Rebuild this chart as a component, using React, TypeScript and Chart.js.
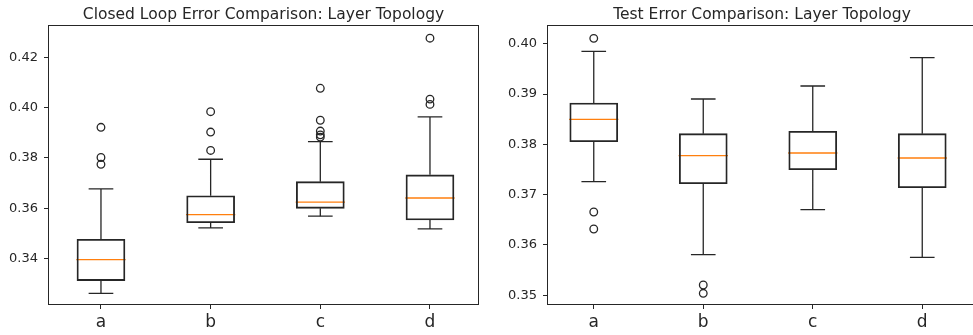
import React, { useEffect, useRef } from "react";
import { Chart, registerables } from "chart.js";

Chart.register(...registerables);

const categories = ["a", "b", "c", "d"];

// Left chart: Closed Loop Error
const clTitle = "Closed Loop Error Comparison: Layer Topology";
const clQ1 = [0.3313, 0.3543, 0.36, 0.3554];
const clMedian = [0.3396, 0.3575, 0.3625, 0.3641];
const clQ3 = [0.3477, 0.365, 0.3706, 0.3733];
const clWhiskerLow = [0.3262, 0.3522, 0.3569, 0.3518];
const clWhiskerHigh = [0.3677, 0.3795, 0.3865, 0.3963];
const clOutliers = [
  [0.3922, 0.3802, 0.3775],
  [0.3984, 0.3903, 0.383],
  [0.4077, 0.395, 0.3907, 0.3892, 0.3883],
  [0.4276, 0.4034, 0.4013],
];
const clYTicks = [0.34, 0.36, 0.38, 0.4, 0.42];

// Right chart: Test Error
const teTitle = "Test Error Comparison: Layer Topology";
const teQ1 = [0.38052, 0.37217, 0.37495, 0.37137];
const teMedian = [0.38497, 0.37773, 0.37827, 0.37728];
const teQ3 = [0.38821, 0.38211, 0.38258, 0.38211];
const teWhiskerLow = [0.37257, 0.35805, 0.367, 0.35753];
const teWhiskerHigh = [0.39849, 0.38901, 0.39159, 0.39722];
const teOutliers = [[0.40107, 0.36654, 0.36316], [0.35203, 0.35038], [], []];
const teYTicks = [0.35, 0.36, 0.37, 0.38, 0.39, 0.4];

const FONT = '"DejaVu Sans", sans-serif';
const INK = "#262626";
const BOX_HALF = 0.225;
const CAP_HALF = 0.1125;
const LW = 1.3;

type Spec = {
  title: string;
  q1: number[];
  med: number[];
  q3: number[];
  lo: number[];
  hi: number[];
  out: number[][];
  yTicks: number[];
  yMin: number;
  yMax: number;
  xMin: number;
  xMax: number;
  yAxisWidth: number;
  padRight: number;
  rightBorder: boolean;
};

function buildConfig(s: Spec): any {
  const boxes = categories.map((_, i) => ({ x: i + 1, y: [s.q1[i], s.q3[i]] }));
  const whiskers: any[] = [];
  const caps: any[] = [];
  const medians: any[] = [];
  const outliers: any[] = [];
  categories.forEach((_, i) => {
    const x = i + 1;
    whiskers.push({ x, y: s.q3[i] }, { x, y: s.hi[i] }, { x, y: null });
    whiskers.push({ x, y: s.q1[i] }, { x, y: s.lo[i] }, { x, y: null });
    caps.push({ x: x - CAP_HALF, y: s.hi[i] }, { x: x + CAP_HALF, y: s.hi[i] }, { x, y: null });
    caps.push({ x: x - CAP_HALF, y: s.lo[i] }, { x: x + CAP_HALF, y: s.lo[i] }, { x, y: null });
    medians.push({ x: x - BOX_HALF, y: s.med[i] }, { x: x + BOX_HALF, y: s.med[i] }, { x, y: null });
    s.out[i].forEach((v) => outliers.push({ x, y: v }));
  });

  const framePlugin = {
    id: "frameTitle",
    afterDatasetsDraw(chart: any) {
      const { ctx, chartArea } = chart;
      ctx.save();
      ctx.strokeStyle = INK;
      ctx.lineWidth = 1;
      const l = Math.round(chartArea.left) + 0.5;
      const t = Math.round(chartArea.top) + 0.5;
      const r = Math.round(chartArea.right) - 0.5;
      const b = Math.round(chartArea.bottom) - 0.5;
      ctx.beginPath();
      if (s.rightBorder) {
        ctx.moveTo(r, t);
        ctx.lineTo(r, b);
      }
      ctx.moveTo(l - 0.5, t);
      ctx.lineTo(r + 0.5, t);
      ctx.moveTo(l, t);
      ctx.lineTo(l, b);
      ctx.moveTo(l - 0.5, b);
      ctx.lineTo(r + 0.5, b);
      ctx.stroke();
      ctx.restore();
    },
    afterDraw(chart: any) {
      const { ctx, chartArea } = chart;
      ctx.save();
      ctx.fillStyle = INK;
      ctx.font = `15.5px ${FONT}`;
      ctx.textAlign = "center";
      ctx.textBaseline = "alphabetic";
      ctx.fillText(s.title, (chartArea.left + chartArea.right) / 2, 19);
      ctx.restore();
    },
  };

  return {
    type: "bar",
    data: {
      datasets: [
        {
          type: "bar",
          data: boxes,
          backgroundColor: "rgba(0,0,0,0)",
          borderColor: INK,
          borderWidth: 1.2,
          borderSkipped: false,
          barThickness: 48,
        },
        {
          type: "line",
          data: whiskers,
          borderColor: INK,
          borderWidth: LW,
          pointRadius: 0,
          spanGaps: false,
          fill: false,
        },
        {
          type: "line",
          data: caps,
          borderColor: INK,
          borderWidth: LW,
          pointRadius: 0,
          spanGaps: false,
          fill: false,
        },
        {
          type: "line",
          data: medians,
          borderColor: "#ff7f0e",
          borderWidth: LW,
          pointRadius: 0,
          spanGaps: false,
          fill: false,
        },
        {
          type: "scatter",
          data: outliers,
          pointStyle: "circle",
          pointRadius: 3.8,
          backgroundColor: "rgba(0,0,0,0)",
          borderColor: INK,
          borderWidth: 1.3,
          showLine: false,
        },
      ],
    },
    options: {
      animation: false,
      responsive: false,
      events: [],
      layout: { padding: { top: 25, right: s.padRight, left: 0, bottom: 0 } },
      plugins: { legend: { display: false }, tooltip: { enabled: false }, title: { display: false } },
      scales: {
        x: {
          type: "linear",
          min: s.xMin,
          max: s.xMax,
          offset: false,
          afterFit: (sc: any) => {
            sc.height = 30;
          },
          afterBuildTicks: (sc: any) => {
            sc.ticks = categories.map((_, i) => ({ value: i + 1 }));
          },
          grid: { display: true, offset: false, drawOnChartArea: false, drawTicks: true, tickLength: 4, color: INK },
          border: { display: false },
          ticks: {
            autoSkip: false,
            maxRotation: 0,
            padding: 3,
            color: INK,
            font: { family: FONT, size: 17 },
            callback: (_v: any, i: number) => categories[i],
          },
        },
        y: {
          type: "linear",
          min: s.yMin,
          max: s.yMax,
          afterFit: (sc: any) => {
            sc.width = s.yAxisWidth;
          },
          afterBuildTicks: (sc: any) => {
            sc.ticks = s.yTicks.map((v) => ({ value: v }));
          },
          grid: { display: true, drawOnChartArea: false, drawTicks: true, tickLength: 4, color: INK },
          border: { display: false },
          ticks: {
            padding: 6,
            color: INK,
            font: { family: FONT, size: 13 },
            callback: (v: any) => Number(v).toFixed(2),
          },
        },
      },
    },
    plugins: [framePlugin],
  };
}

function BoxChart({ spec, left, width }: { spec: Spec; left: number; width: number }) {
  const ref = useRef<HTMLCanvasElement | null>(null);
  useEffect(() => {
    if (!ref.current) return;
    const chart = new Chart(ref.current, buildConfig(spec));
    return () => chart.destroy();
  }, [spec]);
  return (
    <canvas
      ref={ref}
      width={width}
      height={335}
      style={{ position: "absolute", left, top: 0, width, height: 335 }}
    />
  );
}

const leftSpec: Spec = {
  title: clTitle,
  q1: clQ1,
  med: clMedian,
  q3: clQ3,
  lo: clWhiskerLow,
  hi: clWhiskerHigh,
  out: clOutliers,
  yTicks: clYTicks,
  yMin: 0.32159,
  yMax: 0.43284,
  xMin: 0.517,
  xMax: 4.447,
  yAxisWidth: 48,
  padRight: 11,
  rightBorder: true,
};

const rightSpec: Spec = {
  title: teTitle,
  q1: teQ1,
  med: teMedian,
  q3: teQ3,
  lo: teWhiskerLow,
  hi: teWhiskerHigh,
  out: teOutliers,
  yTicks: teYTicks,
  yMin: 0.34805,
  yMax: 0.40372,
  xMin: 0.573,
  xMax: 4.5,
  yAxisWidth: 57,
  padRight: 13,
  rightBorder: false,
};

export default function App() {
  return (
    <div
      style={{
        position: "fixed",
        left: 0,
        top: 0,
        width: 973,
        height: 335,
        overflow: "hidden",
        background: "#fff",
      }}
    >
      <BoxChart spec={leftSpec} left={0} width={490} />
      <BoxChart spec={rightSpec} left={490} width={500} />
    </div>
  );
}
